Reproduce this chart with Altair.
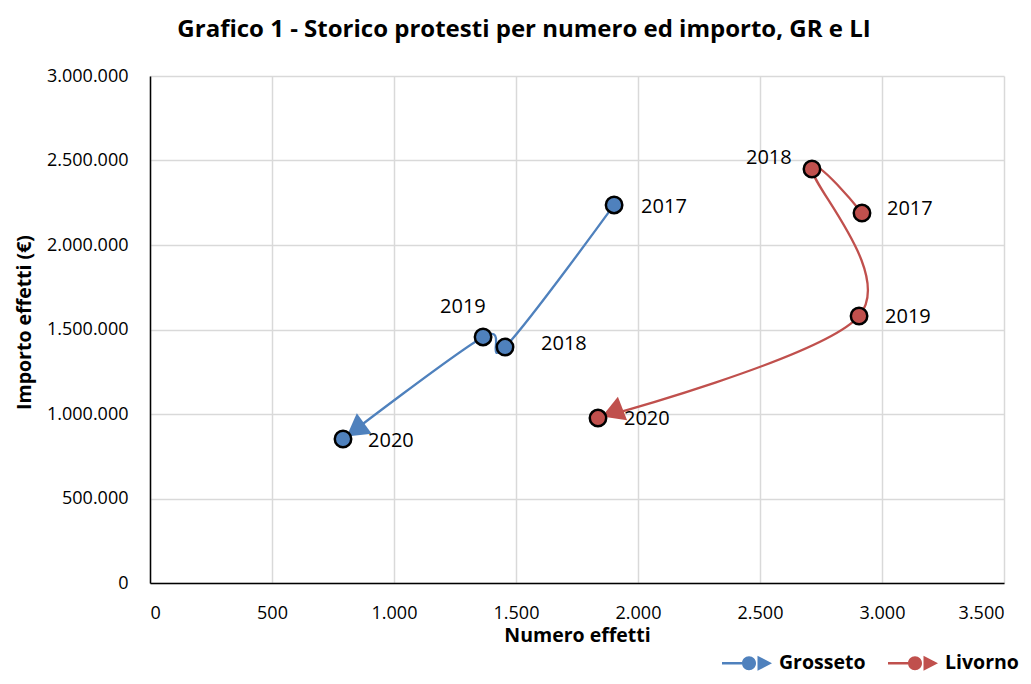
import math
import altair as alt
import pandas as pd

TITLE = "Grafico 1 - Storico protesti per numero ed importo, GR e LI"
SERIES = ["Grosseto", "Livorno"]
YEARS = ["2017", "2018", "2019", "2020"]
GR_NUM = [1902, 1455, 1365, 791]
GR_IMP = [2237000, 1396000, 1456000, 852000]
LI_NUM = [2918, 2713, 2906, 1836]
LI_IMP = [2189000, 2450000, 1580000, 976000]
X_TICKS = [0, 500, 1000, 1500, 2000, 2500, 3000, 3500]
Y_TICKS = [0, 500000, 1000000, 1500000, 2000000, 2500000, 3000000]
X_TITLE = "Numero effetti"
Y_TITLE = "Importo effetti (€)"

COLORS = ["#4F81BD", "#C0504D"]
FONT = "Open Sans"
W, H = 854, 507
XMAX, YMAX = 3500, 3000000
# label placement (pixel offsets, left-aligned text)
LABEL_DX = [[27, 36, -43, 25], [25, -66, 26, 26]]
LABEL_DY = [[2, -3, -30, 2], [-4, -11, 1, 1]]

rows = []
for s, (nums, imps) in enumerate([(GR_NUM, GR_IMP), (LI_NUM, LI_IMP)]):
    for i, yr in enumerate(YEARS):
        rows.append({
            "serie": SERIES[s], "anno": yr, "ord": i,
            "num": nums[i], "imp": imps[i],
            "lx": nums[i] + LABEL_DX[s][i] * XMAX / W,
            "ly": imps[i] - LABEL_DY[s][i] * YMAX / H,
        })
df = pd.DataFrame(rows)

# arrow heads at end of each series, pointing along last segment
arrows = []
BACK = 19
for s, (nums, imps) in enumerate([(GR_NUM, GR_IMP), (LI_NUM, LI_IMP)]):
    dxp = (nums[-1] - nums[-2]) * W / XMAX
    dyp = -(imps[-1] - imps[-2]) * H / YMAX
    L = math.hypot(dxp, dyp)
    ux, uy = dxp / L, dyp / L
    ang = math.degrees(math.atan2(dxp, -dyp)) % 360
    arrows.append({
        "serie": SERIES[s],
        "ax": nums[-1] - ux * BACK * XMAX / W,
        "ay": imps[-1] + uy * BACK * YMAX / H,
        "ang": ang,
    })
adf = pd.DataFrame(arrows)

color_scale = alt.Scale(domain=SERIES, range=COLORS)
lab = "replace(format(datum.value, ','), regexp(',', 'g'), '.')"

xenc = alt.X("num:Q", scale=alt.Scale(domain=[0, XMAX], nice=False),
             axis=alt.Axis(values=X_TICKS, title=X_TITLE, labelExpr=lab))
yenc = alt.Y("imp:Q", scale=alt.Scale(domain=[0, YMAX], nice=False),
             axis=alt.Axis(values=Y_TICKS, title=Y_TITLE, labelExpr=lab, titleY=246))

base = alt.Chart(df)

LEG_PATH = ("M-1,-0.05 L-0.2,-0.05 L-0.2,0.05 L-1,0.05 Z "
            "M-0.2,0 A0.28,0.28 0 1,0 0.36,0 A0.28,0.28 0 1,0 -0.2,0 Z "
            "M0.42,-0.3 L1,0 L0.42,0.3 Z")

legend = alt.Legend(
    title=None, orient="none", legendX=572, legendY=562, direction="horizontal",
    symbolType=LEG_PATH, symbolSize=2500, symbolStrokeWidth=0, padding=0,
    labelFont=FONT, labelFontSize=19.5, labelFontWeight="bold", labelColor="black",
    columnPadding=22, labelOffset=7,
)

lines = base.mark_line(interpolate="cardinal", strokeWidth=2.3).encode(
    x=xenc, y=yenc,
    color=alt.Color("serie:N", scale=color_scale, legend=legend),
    order="ord:Q",
)

heads = alt.Chart(adf).mark_point(shape="triangle", filled=True, size=640, opacity=1).encode(
    x=alt.X("ax:Q"), y=alt.Y("ay:Q"),
    angle=alt.Angle("ang:Q", scale=None),
    color=alt.Color("serie:N", scale=color_scale, legend=None),
)

points = base.mark_point(filled=True, size=270, stroke="black", strokeWidth=2.5, opacity=1).encode(
    x="num:Q", y="imp:Q",
    fill=alt.Fill("serie:N", scale=color_scale, legend=None),
)

labels = base.mark_text(align="left", baseline="middle", font=FONT, fontSize=20, color="black").encode(
    x="lx:Q", y="ly:Q", text="anno:N",
)

chart = alt.layer(lines, heads, points, labels).properties(
    width=W, height=H,
    autosize=alt.AutoSizeParams(type="none"),
    padding={"left": 142, "top": 68, "right": 19, "bottom": 93},
    title=alt.TitleParams(TITLE, font=FONT, fontSize=24, fontWeight="bold", color="black",
                          anchor="middle", frame="group", dx=-53, offset=25),
).configure_view(stroke=None).configure_axis(
    grid=True, gridColor="#d9d9d9", gridWidth=1.5,
    domainColor="black", domainWidth=1.5, ticks=False, tickSize=0,
    labelFont=FONT, labelFontSize=18, labelColor="black",
    titleFont=FONT, titleFontSize=19.5, titleFontWeight="bold", titleColor="black",
).configure_axisX(labelPadding=21, titlePadding=4).configure_axisY(labelPadding=22, titlePadding=12)

chart.save("out.html", embed_options={"renderer": "svg", "actions": False})
